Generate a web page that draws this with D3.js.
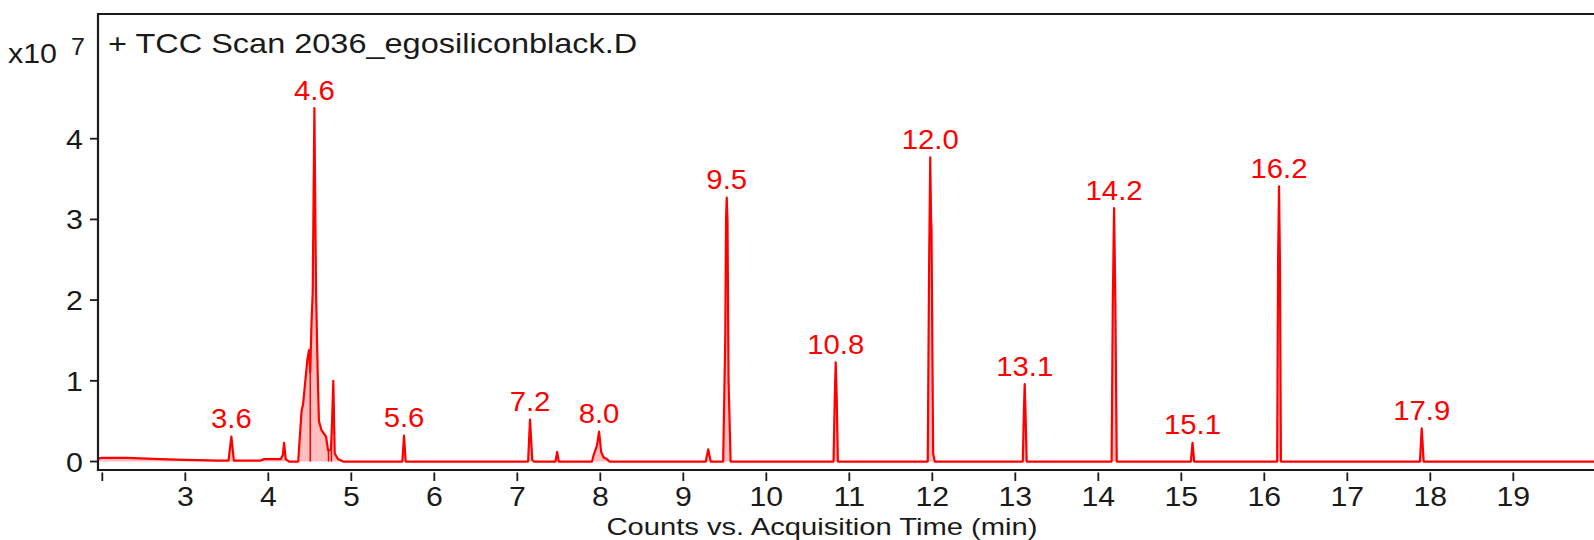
<!DOCTYPE html>
<html>
<head>
<meta charset="utf-8">
<script src="https://cdn.jsdelivr.net/npm/d3@7"></script>
<style>
  body { margin: 0; background: #fff; }
  text { font-family: "Liberation Sans", Arial, sans-serif; }
</style>
</head>
<body>
<svg id="chart" width="1594" height="540"></svg>
<script>
// retention time (min) and counts (x10^7)
var times = [
  1.95, 2.0, 2.3, 2.7, 3.0, 3.4,
  3.52, 3.555, 3.585,
  3.9, 3.95, 4.15, 4.175, 4.19, 4.21, 4.25, 4.33,
  4.36, 4.40, 4.42, 4.47, 4.49, 4.505, 4.52, 4.535, 4.555, 4.575, 4.595, 4.61, 4.64, 4.695, 4.72, 4.755, 4.768, 4.783, 4.80, 4.84, 4.9,
  5.5, 5.615, 5.635, 5.655,
  7.13, 7.153, 7.18, 7.2,
  7.46, 7.48, 7.5,
  7.9, 7.92, 7.96, 7.985, 8.01, 8.04, 8.08, 8.11,
  9.27, 9.3, 9.33,
  9.48, 9.505, 9.515, 9.523, 9.532, 9.545, 9.57,
  10.81, 10.825, 10.836, 10.848, 10.862,
  11.945, 11.962, 11.975, 11.985, 11.99, 12.01, 12.03,
  13.09, 13.103, 13.113, 13.123, 13.137,
  14.16, 14.175, 14.19, 14.205, 14.222,
  15.115, 15.135, 15.155,
  16.155, 16.166, 16.177, 16.188, 16.2,
  17.875, 17.896, 17.92,
  20.1
];
var counts = [
  0.04, 0.045, 0.045, 0.03, 0.02, 0.01,
  0.01, 0.31, 0.01,
  0.01, 0.03, 0.03, 0.08, 0.23, 0.03, 0.0, 0.0,
  0.0, 0.62, 0.72, 1.26, 1.38, 1.1, 1.7, 2.1, 4.38, 2.1, 1.1, 0.5, 0.39, 0.31, 0.14, 0.14, 0.5, 1.0, 0.1, 0.03, 0.0,
  0.0, 0.0, 0.32, 0.0,
  0.0, 0.52, 0.02, 0.0,
  0.0, 0.12, 0.0,
  0.0, 0.08, 0.2, 0.37, 0.12, 0.05, 0.03, 0.0,
  0.0, 0.15, 0.0,
  0.0, 1.5, 3.0, 3.27, 3.0, 1.0, 0.0,
  0.0, 0.8, 1.23, 0.8, 0.0,
  0.0, 2.5, 3.77, 3.0, 2.9, 0.1, 0.0,
  0.0, 0.6, 0.96, 0.6, 0.0,
  0.0, 2.0, 3.14, 2.0, 0.0,
  0.0, 0.23, 0.0,
  0.0, 2.5, 3.41, 2.5, 0.0,
  0.0, 0.41, 0.0,
  0.0
];

// integration drop lines inside the 4.6 cluster
var dropTimes = [4.505, 4.725, 4.76];

// peak labels
var peakTimes = [3.555, 4.555, 5.635, 7.153, 7.985, 9.523, 10.836, 11.975, 13.113, 14.19, 15.135, 16.177, 17.896];
var peakText  = ["3.6", "4.6", "5.6", "7.2", "8.0", "9.5", "10.8", "12.0", "13.1", "14.2", "15.1", "16.2", "17.9"];

var xTicks = [2, 3, 4, 5, 6, 7, 8, 9, 10, 11, 12, 13, 14, 15, 16, 17, 18, 19];
var yTicks = [0, 1, 2, 3, 4];

var svg = d3.select("#chart");

var pLeft = 98, pTop = 14, pBottom = 470, pRight = 1600;

var x = d3.scaleLinear().domain([1.948, 1.948 + (pRight - pLeft) / 83.0]).range([pLeft, pRight]);
var y = d3.scaleLinear().domain([-0.105, 5.545]).range([pBottom, pTop]);

var data = times.map(function(t, i) { return { t: t, c: counts[i] }; });

function widen(k) {
  return function(sel) {
    sel.each(function() {
      var w = this.getComputedTextLength();
      d3.select(this).attr("textLength", w * k).attr("lengthAdjust", "spacingAndGlyphs");
    });
  };
}

// trace fill + line
svg.append("path")
    .datum(data)
    .attr("fill", "rgba(255,0,0,0.25)")
    .attr("d", d3.area().x(function(d) { return x(d.t); }).y0(y(0)).y1(function(d) { return y(d.c); }));

svg.selectAll(".drop")
    .data(dropTimes)
  .enter().append("line")
    .attr("class", "drop")
    .attr("x1", function(d) { return x(d); })
    .attr("x2", function(d) { return x(d); })
    .attr("y1", y(0))
    .attr("y2", function(d) {
      var i = d3.bisector(function(p) { return p.t; }).left(data, d);
      var a = data[i - 1], b = data[i];
      return y(a.c + (b.c - a.c) * (d - a.t) / (b.t - a.t));
    })
    .attr("stroke", "#ff0000")
    .attr("stroke-width", 1.5);

svg.append("path")
    .datum(data)
    .attr("fill", "none")
    .attr("stroke", "#ff0000")
    .attr("stroke-width", 2.2)
    .attr("stroke-linejoin", "round")
    .attr("d", d3.line().x(function(d) { return x(d.t); }).y(function(d) { return y(d.c); }));

// peak labels
svg.selectAll(".plab")
    .data(peakTimes)
  .enter().append("text")
    .attr("class", "plab")
    .attr("x", function(d) { return x(d); })
    .attr("y", function(d) {
      var m = d3.max(data.filter(function(p) { return Math.abs(p.t - d) < 0.03; }), function(p) { return p.c; });
      return y(m) - 8.5;
    })
    .attr("text-anchor", "middle")
    .attr("fill", "#ff0000")
    .style("font-size", "27px")
    .text(function(d, i) { return peakText[i]; })
    .call(widen(1.085));

// frame / axes
var ink = "#1a1a1a";
svg.append("line").attr("x1", pLeft).attr("x2", pRight).attr("y1", pTop).attr("y2", pTop)
    .attr("stroke", ink).attr("stroke-width", 2.2);
svg.append("line").attr("x1", pLeft).attr("x2", pLeft).attr("y1", pTop - 1).attr("y2", pBottom + 1)
    .attr("stroke", ink).attr("stroke-width", 2.2);
svg.append("line").attr("x1", pLeft).attr("x2", pRight).attr("y1", pBottom).attr("y2", pBottom)
    .attr("stroke", ink).attr("stroke-width", 2.2);

svg.selectAll(".xt")
    .data(xTicks)
  .enter().append("line")
    .attr("x1", function(d) { return x(d); })
    .attr("x2", function(d) { return x(d); })
    .attr("y1", pBottom + 2.5).attr("y2", pBottom + 11)
    .attr("stroke", ink).attr("stroke-width", 1.8);

svg.selectAll(".xl")
    .data(xTicks.slice(1))
  .enter().append("text")
    .attr("x", function(d) { return x(d); })
    .attr("y", 506)
    .attr("text-anchor", "middle")
    .attr("fill", ink)
    .style("font-size", "27px")
    .text(function(d) { return d; })
    .call(widen(1.12));

svg.selectAll(".yt")
    .data(yTicks)
  .enter().append("line")
    .attr("x1", pLeft - 8).attr("x2", pLeft)
    .attr("y1", function(d) { return y(d); })
    .attr("y2", function(d) { return y(d); })
    .attr("stroke", ink).attr("stroke-width", 1.8);

svg.selectAll(".yl")
    .data(yTicks)
  .enter().append("text")
    .attr("x", 83)
    .attr("y", function(d) { return y(d) + 10; })
    .attr("text-anchor", "end")
    .attr("fill", ink)
    .style("font-size", "28px")
    .text(function(d) { return d; })
    .call(widen(1.085));

// exponent
svg.append("text").attr("x", 8).attr("y", 63).attr("fill", ink)
    .style("font-size", "28px").text("x10").call(widen(1.085));
svg.append("text").attr("x", 71).attr("y", 55).attr("fill", ink)
    .style("font-size", "23px").text("7").call(widen(1.085));

// titles
svg.append("text").attr("x", 108).attr("y", 53).attr("fill", ink)
    .style("font-size", "28px").text("+ TCC Scan 2036_egosiliconblack.D").call(widen(1.16));

svg.append("text").attr("x", 822).attr("y", 534.8).attr("text-anchor", "middle").attr("fill", ink)
    .style("font-size", "24.5px").text("Counts vs. Acquisition Time (min)").call(widen(1.19));
</script>
</body>
</html>
